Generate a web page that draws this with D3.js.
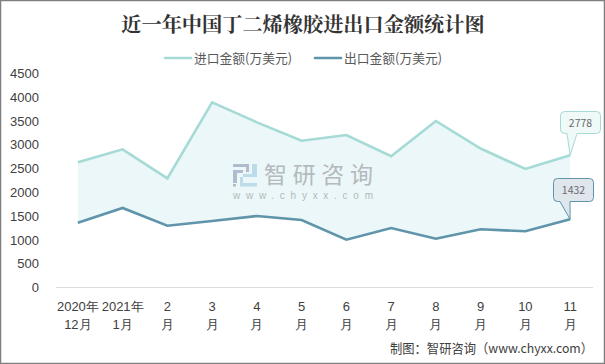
<!DOCTYPE html>
<html>
<head>
<meta charset="utf-8">
<script src="https://cdn.jsdelivr.net/npm/d3@7"></script>
<style>
  html, body { margin: 0; padding: 0; background: #fff; }
  svg { display: block; }
</style>
</head>
<body>
<svg id="grafico" width="605" height="364"></svg>
<script>
const meses = ["2020年|12月", "2021年|1月", "2|月", "3|月", "4|月", "5|月", "6|月", "7|月", "8|月", "9|月", "10|月", "11|月"];
const importaciones = [2630, 2904, 2294, 3892, 3471, 3085, 3204, 2757, 3499, 2920, 2490, 2778];
const exportaciones = [1360, 1670, 1297, 1396, 1501, 1417, 1003, 1249, 1024, 1222, 1180, 1432];
const ticksY = [0, 500, 1000, 1500, 2000, 2500, 3000, 3500, 4000, 4500];
const titulo = "近一年中国丁二烯橡胶进出口金额统计图";
const nombreImp = "进口金额(万美元)";
const nombreExp = "出口金额(万美元)";

const colorImp = "#a5dad6";
const colorExp = "#5f94aa";
const fuente = "'Noto Sans CJK SC', 'Open Sans', sans-serif";

const svg = d3.select("#grafico");
svg.attr("font-family", fuente);

// borde exterior
svg.append("rect")
  .attr("x", 0.5).attr("y", 0.5)
  .attr("width", 604).attr("height", 363)
  .attr("fill", "#fff").attr("stroke", "#7f7f7f").attr("stroke-width", 1.5);

svg.append("text")
  .attr("x", 303).attr("y", 32)
  .attr("text-anchor", "middle")
  .attr("font-size", 20.2).attr("font-weight", 700)
  .attr("font-family", "'Noto Serif CJK SC', 'Noto Sans CJK SC', serif")
  .attr("fill", "#333")
  .text(titulo);

const x = d3.scaleBand().domain(d3.range(meses.length)).range([55.5, 592.5]);
const y = d3.scaleLinear().domain([0, 4500]).range([287.4, 73.4]);
const cx = i => x(i) + x.bandwidth() / 2;

// eje y sin linea
const ejeY = svg.append("g")
  .attr("transform", "translate(41,0)")
  .call(d3.axisLeft(y).tickValues(ticksY).tickSize(0).tickPadding(2).tickFormat(d3.format("d")));
ejeY.select(".domain").remove();
ejeY.selectAll("text").attr("font-size", 13).attr("fill", "#404040");

// eje x
const ejeX = svg.append("g")
  .attr("transform", "translate(0,287)")
  .call(d3.axisBottom(x).tickSize(0).tickFormat(""));
ejeX.select(".domain").attr("stroke", "#dcdcdc").attr("stroke-width", 1);

ejeX.selectAll(".tick").each(function(d) {
  const partes = meses[d].split("|");
  const t = d3.select(this).select("text")
    .text(null)
    .attr("y", 0).attr("dy", null)
    .attr("font-size", 13).attr("fill", "#404040");
  partes.forEach((p, k) => {
    t.append("tspan").attr("x", 0).attr("y", 24 + k * 18).text(p);
  });
});

// area entre las dos series
const area = d3.area()
  .x((d, i) => cx(i))
  .y0((d, i) => y(exportaciones[i]))
  .y1(d => y(d));
svg.append("path")
  .datum(importaciones)
  .attr("d", area)
  .attr("fill", "#ebf7f8");

// marca de agua
const marca = svg.append("g");
marca.append("path")
  .attr("d", "M233 164h16v8h-3v-5h-13zM233 170h10v3h-6v10h-4zM233 184h3v2.5h-3z")
  .attr("fill", "#aebccd");
marca.append("path")
  .attr("d", "M252 164h5v13h-14v-3h9zM240 177h3v6h14v3.5h-17z")
  .attr("fill", "#bcdcec");
marca.append("text")
  .attr("x", 264).attr("y", 183)
  .attr("font-size", 23).attr("textLength", 109).attr("lengthAdjust", "spacing")
  .attr("fill", "#b4babd")
  .text("智研咨询");
marca.append("text")
  .attr("x", 233).attr("y", 199)
  .attr("font-family", "'Liberation Sans', sans-serif")
  .attr("font-size", 10).attr("textLength", 140).attr("lengthAdjust", "spacing")
  .attr("fill", "#b4babd")
  .text("www.chyxx.com");

// lineas
const linea = d3.line().x((d, i) => cx(i)).y(d => y(d));
svg.append("path").datum(importaciones)
  .attr("d", linea).attr("fill", "none")
  .attr("stroke", colorImp).attr("stroke-width", 2.6);
svg.append("path").datum(exportaciones)
  .attr("d", linea).attr("fill", "none")
  .attr("stroke", colorExp).attr("stroke-width", 2.6);

// leyenda
const leyenda = [
  { nombre: nombreImp, color: colorImp, x0: 165 },
  { nombre: nombreExp, color: colorExp, x0: 315 }
];
leyenda.forEach(l => {
  svg.append("line")
    .attr("x1", l.x0).attr("x2", l.x0 + 26)
    .attr("y1", 58).attr("y2", 58)
    .attr("stroke", l.color).attr("stroke-width", 2.6)
    .attr("stroke-linecap", "round");
  svg.append("text")
    .attr("x", l.x0 + 29).attr("y", 63)
    .attr("font-size", 13).attr("textLength", 98).attr("lengthAdjust", "spacingAndGlyphs")
    .attr("fill", "#595959")
    .text(l.nombre);
});

// globos de dato
function globo(valor, serie, color, relleno, caja) {
  const px = cx(serie.length - 1), py = y(valor);
  const r = 4, l = caja.x, t = caja.y, w = caja.w, h = caja.h, b = t + h;
  const d = `M${l + r} ${t}H${l + w - r}Q${l + w} ${t} ${l + w} ${t + r}V${b - r}Q${l + w} ${b} ${l + w - r} ${b}`
    + `H${caja.p2}L${px} ${py}L${caja.p1} ${b}H${l + r}Q${l} ${b} ${l} ${b - r}V${t + r}Q${l} ${t} ${l + r} ${t}Z`;
  svg.append("path").attr("d", d)
    .attr("fill", relleno).attr("stroke", color).attr("stroke-width", 1);
  svg.append("text")
    .attr("x", l + w / 2).attr("y", t + h / 2 + 4)
    .attr("text-anchor", "middle")
    .attr("font-size", 10.5).attr("fill", "#6b6b6b")
    .text(valor);
}
globo(importaciones[11], importaciones, colorImp, "#eef9f8", { x: 560.5, y: 111.5, w: 40, h: 22, p1: 567, p2: 577 });
globo(exportaciones[11], exportaciones, colorExp, "#dfe6ec", { x: 553.5, y: 178.5, w: 40, h: 23, p1: 560, p2: 570 });

// fuente
svg.append("text")
  .attr("x", 390).attr("y", 353)
  .attr("font-size", 13).attr("textLength", 203).attr("lengthAdjust", "spacingAndGlyphs")
  .attr("fill", "#404040")
  .text("制图：智研咨询（www.chyxx.com）");
</script>
</body>
</html>
